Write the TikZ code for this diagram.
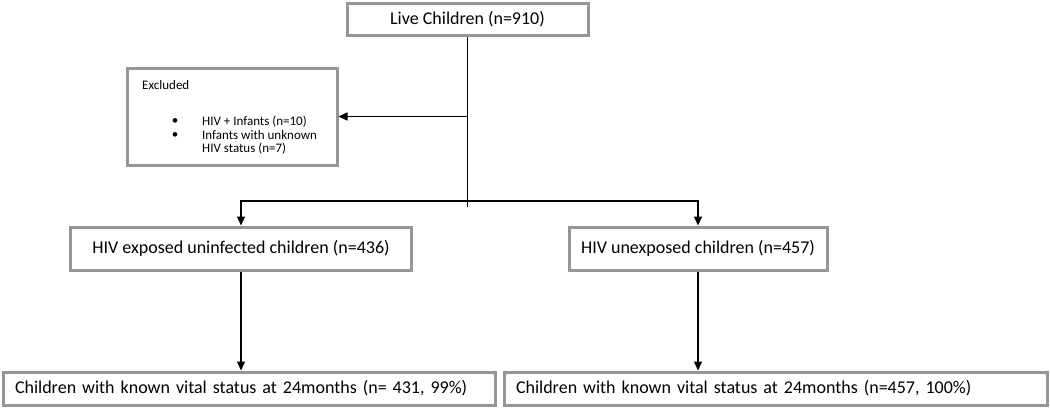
\documentclass[tikz,border=0pt]{standalone}
\usepackage{fontspec}
\setmainfont{Carlito}
\usetikzlibrary{arrows.meta}
\definecolor{boxgray}{RGB}{150,150,150}
\begin{document}
\begin{tikzpicture}[x=1pt,y=-1pt,
  box/.style={draw=boxgray, line width=3pt, fill=white, inner sep=0pt,
    font=\fontsize{18}{21}\selectfont},
  leftbox/.style={box, align=left, inner xsep=12pt},
  small/.style={inner sep=0pt, font=\fontsize{13}{13.5}\selectfont},
  conn/.style={line width=1.4pt, black},
  arr/.style={conn, -{Triangle[length=9pt,width=8pt]}}]
\useasboundingbox (0,0) rectangle (1050,408);

\node[box, minimum width=241pt, minimum height=32pt] (top) at (467.5,19) {Live Children (n=910)};

\node[box, minimum width=210pt, minimum height=97pt] (excl) at (232,116.5) {};
\node[small, anchor=west] (exh) at (142,85) {Excluded};
\node[small] (b1) at (175,122) {\textbullet};
\node[small] (b2) at (175,135.5) {\textbullet};
\node[small, anchor=west, align=left] (exl) at (202,135.5) {HIV + Infants (n=10)\\Infants with unknown\\HIV status (n=7)};

\node[box, minimum width=341pt, minimum height=43pt] (hev) at (241,248.5) {HIV exposed uninfected children (n=436)};
\node[box, minimum width=258pt, minimum height=43pt] (hun) at (698,248.5) {HIV unexposed children (n=457)};

\node[leftbox, text width=468pt, minimum height=33pt] (bl) at (249,388.5) {Children with known vital status at 24months (n= 431, 99\%)};
\node[leftbox, text width=519pt, minimum height=33pt] (br) at (775.5,388.5) {Children with known vital status at 24months (n=457, 100\%)};

\coordinate (j) at (467.5,201);
\coordinate (vend) at (467.5,207);
\draw[conn] (top.south) -- (vend);
\draw[arr] (top.south |- excl.east) -- (excl.east);
\draw[arr] (j) -| (hev.north);
\draw[arr] (j) -| (hun.north);
\draw[arr] (hev.south) -- (hev.south |- bl.north);
\draw[arr] (hun.south) -- (hun.south |- br.north);
\end{tikzpicture}
\end{document}
